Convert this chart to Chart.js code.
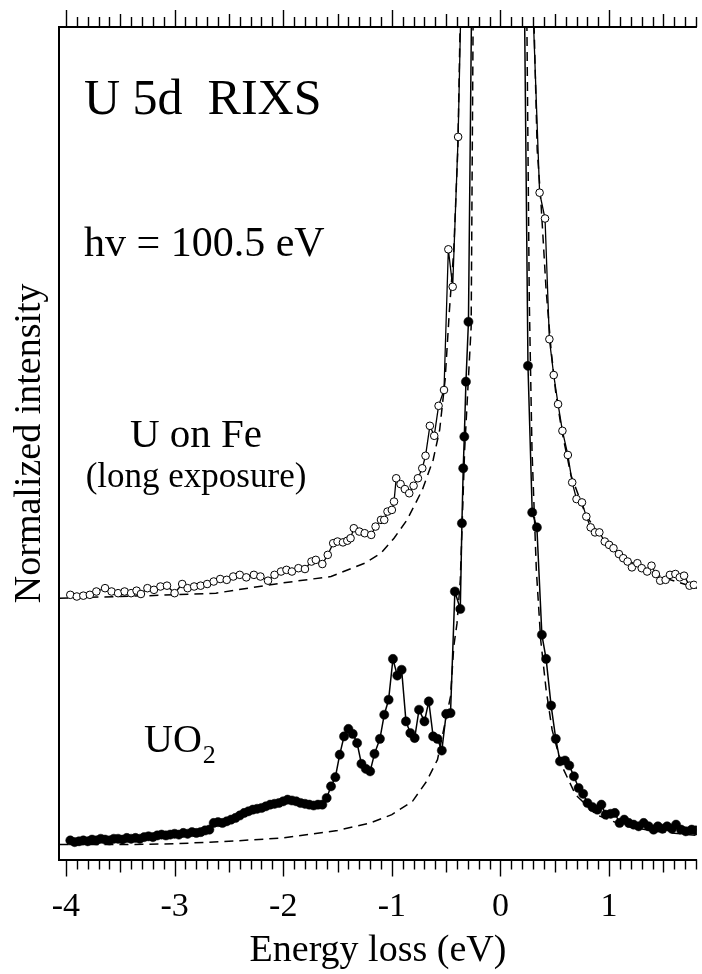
<!DOCTYPE html>
<html>
<head>
<meta charset="utf-8">
<script src="https://cdn.jsdelivr.net/npm/chart.js@4.4.1/dist/chart.umd.min.js"></script>
<style>
  html, body { margin: 0; padding: 0; background: #fff; }
  canvas { display: block; }
</style>
</head>
<body>
<canvas id="rixs" width="702" height="974"></canvas>
<script>
// x tick labels (eV)
const xTickValues = [-4, -3, -2, -1, 0, 1];

// UO2, filled circles
const uo2Energy = [-3.96, -3.92, -3.88, -3.84, -3.80, -3.76, -3.72, -3.68, -3.64, -3.60,
  -3.56, -3.52, -3.48, -3.44, -3.40, -3.36, -3.32, -3.28, -3.24, -3.20,
  -3.16, -3.12, -3.08, -3.04, -3.00, -2.96, -2.92, -2.88, -2.84, -2.80,
  -2.76, -2.72, -2.68, -2.64, -2.60, -2.56, -2.52, -2.48, -2.44, -2.40,
  -2.36, -2.32, -2.28, -2.24, -2.20, -2.16, -2.12, -2.08, -2.04, -2.00,
  -1.96, -1.92, -1.88, -1.84, -1.80, -1.76, -1.72, -1.68, -1.64, -1.60,
  -1.56, -1.52, -1.48, -1.44, -1.40, -1.36, -1.32, -1.28, -1.24, -1.20,
  -1.16, -1.11, -1.07, -1.03, -0.99, -0.95, -0.91, -0.87, -0.83, -0.79,
  -0.75, -0.70, -0.66, -0.62, -0.58, -0.54, -0.50, -0.46, -0.42, -0.37,
  -0.355, -0.343, -0.333, -0.318, -0.295, -0.24, 0, 0.20,
  0.253, 0.292, 0.335, 0.381, 0.420, 0.466, 0.509, 0.548, 0.594, 0.633,
  0.676, 0.719, 0.761, 0.801, 0.847, 0.892, 0.929, 0.968, 1.014, 1.053,
  1.096, 1.139, 1.181, 1.226, 1.272, 1.318, 1.363, 1.409, 1.449, 1.491,
  1.534, 1.577, 1.616, 1.662, 1.705, 1.760, 1.80];
const uo2Intensity = [2.3, 2.1, 2.2, 2.3, 2.2, 2.4, 2.3, 2.5, 2.4, 2.3,
  2.5, 2.5, 2.4, 2.6, 2.5, 2.6, 2.5, 2.7, 2.8, 2.7,
  2.9, 3.0, 2.9, 3.0, 3.1, 3.0, 3.2, 3.1, 3.3, 3.2,
  3.3, 3.5, 3.6, 4.4, 4.5, 4.4, 4.6, 4.8, 5.0, 5.3,
  5.6, 5.8, 6.0, 6.1, 6.2, 6.4, 6.6, 6.7, 6.8, 7.0,
  7.2, 7.1, 7.0, 6.8, 6.7, 6.6, 6.5, 6.6, 6.6, 7.4,
  8.8, 9.9, 12.6, 14.8, 15.7, 15.1, 14.0, 11.5, 10.9, 10.6,
  12.7, 14.5, 17.4, 19.2, 24.1, 22.1, 22.8, 16.6, 15.2, 14.6,
  18.0, 16.6, 19.0, 14.8, 14.5, 13.1, 17.5, 17.6, 32.2, 30.1,
  40.4, 47.0, 50.8, 57.4, 64.6, 137, 800, 131,
  59.3, 41.7, 39.9, 27.0, 24.1, 18.5, 14.5, 11.8, 11.9, 11.3,
  10.0, 8.6, 7.9, 6.8, 6.3, 6.0, 6.6, 5.4, 5.5, 5.6,
  4.4, 4.8, 4.4, 4.2, 4.0, 4.4, 4.0, 3.6, 4.0, 3.7,
  4.0, 3.7, 4.2, 3.6, 3.4, 3.6, 3.5];

// U on Fe (long exposure), open circles
const feEnergy = [-3.96, -3.90, -3.84, -3.78, -3.72, -3.64, -3.58, -3.52, -3.46, -3.40,
  -3.35, -3.31, -3.25, -3.19, -3.13, -3.07, -3.00, -2.93, -2.88, -2.82,
  -2.76, -2.70, -2.64, -2.58, -2.52, -2.46, -2.40, -2.34, -2.27, -2.21,
  -2.14, -2.08, -2.02, -1.97, -1.92, -1.86, -1.80, -1.74, -1.70, -1.64,
  -1.59, -1.54, -1.50, -1.45, -1.41, -1.38, -1.35, -1.30, -1.25, -1.19,
  -1.15, -1.10, -1.07, -1.04, -1.00, -0.98, -0.96, -0.92, -0.88, -0.84,
  -0.80, -0.76, -0.72, -0.69, -0.65, -0.61, -0.57, -0.52, -0.48, -0.44,
  -0.39, -0.35, 0, 0.29, 0.36, 0.41, 0.45, 0.49, 0.53, 0.57,
  0.62, 0.66, 0.70, 0.75, 0.79, 0.83, 0.87, 0.91, 0.96, 1.00,
  1.04, 1.09, 1.13, 1.17, 1.21, 1.26, 1.30, 1.35, 1.39, 1.43,
  1.47, 1.52, 1.56, 1.61, 1.65, 1.69, 1.74, 1.78];
const feIntensity = [31.8, 31.6, 31.7, 31.8, 32.2, 32.6, 32.2, 32.0, 32.2, 32.0,
  32.3, 31.9, 32.6, 32.4, 32.8, 32.9, 32.0, 33.1, 32.6, 32.8,
  32.9, 33.1, 33.4, 33.7, 33.6, 34.0, 34.2, 33.9, 34.2, 34.0,
  33.5, 34.2, 34.6, 34.8, 34.6, 35.0, 34.9, 35.8, 36.0, 35.5,
  36.6, 38.0, 38.2, 38.1, 38.3, 38.6, 39.8, 39.4, 39.2, 39.0,
  40.0, 40.8, 40.8, 41.8, 42.0, 43.0, 45.8, 45.1, 44.5, 44.0,
  44.9, 45.8, 47.0, 48.5, 52.1, 50.9, 54.5, 56.4, 73.3, 68.8,
  86.8, 111.5, 900, 105.5, 80.1, 77.0, 62.5, 58.2, 54.7, 51.5,
  48.6, 45.3, 43.3, 42.9, 41.2, 39.9, 39.3, 39.3, 38.2, 37.8,
  37.4, 36.7, 36.2, 35.8, 35.1, 35.6, 35.0, 34.6, 35.3, 34.3,
  33.5, 33.6, 34.2, 34.3, 33.9, 34.1, 32.9, 33.0];

// elastic line fits (dashed)
const uo2FitEnergy = [-4.06, -3.51, -3.0, -2.5, -2.0, -1.5, -1.2, -1.0, -0.81, -0.68,
  -0.58, -0.46, -0.43, -0.40, -0.37, -0.33, -0.27, -0.25, -0.2, 0,
  0.2, 0.24, 0.265, 0.29, 0.33, 0.37, 0.42, 0.475, 0.56, 0.69,
  0.88, 1.15, 1.43, 1.81];
const uo2FitIntensity = [1.8, 1.8, 1.9, 2.2, 2.6, 3.5, 4.4, 5.4, 7.0, 9.4,
  12.0, 19.6, 25.6, 28.4, 33.6, 49.2, 64.0, 105, 300, 800,
  300, 105, 67.2, 49.2, 34.8, 26.4, 20.4, 15.6, 11.4, 7.8,
  5.4, 4.0, 3.4, 2.9];
const feFitEnergy = [-4.06, -3.23, -2.62, -2.02, -1.56, -1.25, -1.10, -0.98, -0.86, -0.72,
  -0.62, -0.56, -0.51, -0.47, -0.43, -0.393, -0.365, -0.3, 0, 0.25,
  0.30, 0.338, 0.374, 0.42, 0.466, 0.511, 0.566, 0.648, 0.785, 0.968,
  1.242, 1.516, 1.81];
const feFitIntensity = [31.4, 31.7, 32.0, 33.2, 34.0, 35.6, 36.8, 38.6, 40.8, 44.4,
  48.0, 51.6, 57.6, 66.0, 73.2, 85.2, 105, 300, 900, 300,
  105, 85.2, 78.6, 68.4, 61.2, 55.8, 51.4, 46.2, 41.4, 37.8,
  35.4, 33.8, 32.6];

const SERIF = '"Liberation Serif", "Times New Roman", serif';

function pairs(xs, ys) {
  return xs.map(function (x, i) { return { x: x, y: ys[i] }; });
}

// minor/major tick marks on bottom and top edges, plus top frame line
const frameTicks = {
  id: "frameTicks",
  afterDraw: function (chart) {
    const ctx = chart.ctx;
    const a = chart.chartArea;
    const x = chart.scales.x;
    ctx.save();
    ctx.strokeStyle = "#000";
    ctx.lineWidth = 2;
    ctx.beginPath();
    ctx.moveTo(a.left - 1, a.top);
    ctx.lineTo(a.right, a.top);
    ctx.stroke();
    ctx.lineWidth = 1.4;
    for (let i = -40; i <= 18; i++) {
      const px = Math.round(x.getPixelForValue(i / 10)) + 0.5;
      const len = i % 10 === 0 ? 17 : (i % 5 === 0 ? 13 : 10);
      ctx.beginPath();
      ctx.moveTo(px, a.bottom);
      ctx.lineTo(px, a.bottom + len);
      ctx.moveTo(px, a.top);
      ctx.lineTo(px, a.top - len);
      ctx.stroke();
    }
    ctx.restore();
  }
};

// text labels inside the plot
const plotLabels = {
  id: "plotLabels",
  afterDraw: function (chart) {
    const ctx = chart.ctx;
    ctx.save();
    ctx.fillStyle = "#000";
    ctx.textBaseline = "alphabetic";
    ctx.textAlign = "left";
    ctx.font = "50px " + SERIF;
    ctx.fillText("U 5d  RIXS", 84, 114);
    ctx.font = "42px " + SERIF;
    ctx.fillText("hv = 100.5 eV", 84, 256);
    ctx.textAlign = "center";
    ctx.font = "41px " + SERIF;
    ctx.fillText("U on Fe", 196, 447);
    ctx.font = "35px " + SERIF;
    ctx.fillText("(long exposure)", 196, 487);
    ctx.textAlign = "left";
    ctx.font = "40px " + SERIF;
    ctx.fillText("UO", 144, 752);
    const w = ctx.measureText("UO").width;
    ctx.font = "26px " + SERIF;
    ctx.fillText("2", 144 + w + 1, 763);
    ctx.restore();
  }
};

const ctx = document.getElementById("rixs").getContext("2d");

new Chart(ctx, {
  type: "line",
  data: {
    datasets: [
      {
        label: "UO2",
        data: pairs(uo2Energy, uo2Intensity),
        borderColor: "#000",
        borderWidth: 1.5,
        pointRadius: 4.6,
        pointBackgroundColor: "#000",
        pointBorderColor: "#000",
        pointBorderWidth: 0.5,
        tension: 0,
        clip: 0,
        order: 1
      },
      {
        label: "U on Fe",
        data: pairs(feEnergy, feIntensity),
        borderColor: "#000",
        borderWidth: 1.3,
        pointRadius: 3.8,
        pointBackgroundColor: "#fff",
        pointBorderColor: "#000",
        pointBorderWidth: 1,
        tension: 0,
        clip: 0,
        order: 2
      },
      {
        label: "UO2 fit",
        data: pairs(uo2FitEnergy, uo2FitIntensity),
        borderColor: "#000",
        borderWidth: 1.5,
        borderDash: [9, 6],
        pointRadius: 0,
        tension: 0,
        clip: 0,
        order: 3
      },
      {
        label: "U on Fe fit",
        data: pairs(feFitEnergy, feFitIntensity),
        borderColor: "#000",
        borderWidth: 1.5,
        borderDash: [9, 6],
        pointRadius: 0,
        tension: 0,
        clip: 0,
        order: 4
      }
    ]
  },
  options: {
    responsive: false,
    animation: false,
    events: [],
    layout: {
      padding: { left: 3, right: 0, top: 27, bottom: 0 }
    },
    plugins: {
      legend: { display: false },
      tooltip: { enabled: false }
    },
    scales: {
      x: {
        type: "linear",
        min: -4.064,
        max: 1.808,
        grid: { display: false, drawTicks: false },
        border: { display: true, color: "#000", width: 2 },
        afterBuildTicks: function (scale) {
          scale.ticks = xTickValues.map(function (v) { return { value: v }; });
        },
        ticks: {
          padding: 27,
          autoSkip: false,
          maxRotation: 0,
          color: "#000",
          font: { family: SERIF, size: 34 }
        },
        title: {
          display: true,
          text: "Energy loss (eV)",
          color: "#000",
          font: { family: SERIF, size: 38 },
          padding: { top: -26, bottom: 0 }
        }
      },
      y: {
        min: 0,
        max: 100,
        grid: { display: false, drawTicks: false },
        border: { display: true, color: "#000", width: 2 },
        ticks: { display: false },
        title: {
          display: true,
          text: "Normalized intensity",
          color: "#000",
          font: { family: SERIF, size: 38 },
          padding: { top: 4, bottom: 6.4 }
        }
      }
    }
  },
  plugins: [frameTicks, plotLabels]
});
</script>
</body>
</html>
